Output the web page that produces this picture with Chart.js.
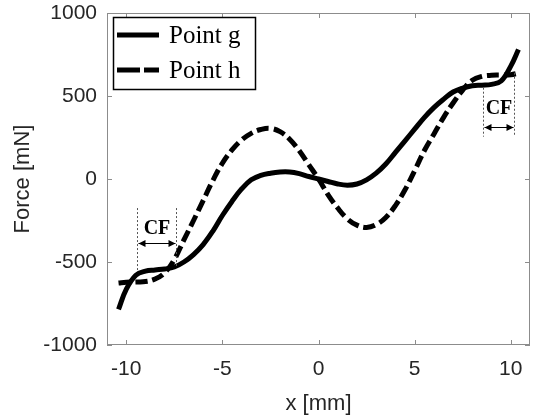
<!DOCTYPE html>
<html><head><meta charset="utf-8">
<script src="https://cdn.jsdelivr.net/npm/chart.js@4/dist/chart.umd.min.js"></script>
<style>html,body{margin:0;padding:0;background:#fff;}canvas{display:block;}</style>
</head><body>
<canvas id="c" width="537" height="417"></canvas>
<script>
const xValues = [-10.4,-10,-9.5,-9,-8.5,-8,-7.5,-7,-6.5,-6,-5.5,-5,-4.5,-4,-3.5,-3,-2.5,-2,-1.5,-1,-0.5,0,0.5,1,1.5,2,2.5,3,3.5,4,4.5,5,5.5,6,6.5,7,7.5,8,8.5,9,9.5,10,10.4];
const pointG = [-785,-665,-580,-555,-548,-542,-530,-500,-455,-395,-315,-220,-135,-60,-5,22,35,42,42,32,15,0,-15,-30,-37,-30,-5,35,90,160,230,300,370,430,480,524,548,562,565,570,590,680,780];
const pointH = [-627,-622,-620,-618,-603,-565,-485,-367,-250,-130,-10,95,175,235,275,298,305,285,240,170,85,0,-95,-175,-240,-278,-292,-275,-232,-160,-65,50,170,270,370,458,536,595,618,625,626,628,638];
const seriesNames = ['Point g', 'Point h'];
const xTicks = [-10,-5,0,5,10];
const yTicks = [-1000,-500,0,500,1000];
const cfMarks = [
  {x1:-9.43, x2:-7.4, top1:-175, top2:-175, bot1:-550, bot2:-530, arrowY:-385, textY:-300},
  {x1:8.54, x2:10.16, top1:550, top2:640, bot1:255, bot2:255, arrowY:313, textY:422}
];

const serif = '"Liberation Serif","Times New Roman",serif';
const sans = '"Liberation Sans",Arial,Helvetica,sans-serif';
const axisColor = '#8c8c8c';
const textColor = '#262626';

const framePlugin = {
  id: 'frame',
  beforeDatasetsDraw(chart) {
    const {ctx, chartArea: a, scales} = chart;
    ctx.save();
    ctx.strokeStyle = axisColor; ctx.lineWidth = 1;
    ctx.strokeRect(a.left + 0.5, a.top + 0.5, a.right - a.left - 1, a.bottom - a.top - 1);
    ctx.beginPath();
    xTicks.forEach(v => {
      const p = Math.round(scales.x.getPixelForValue(v)) + 0.5;
      ctx.moveTo(p, a.bottom); ctx.lineTo(p, a.bottom - 5);
      ctx.moveTo(p, a.top); ctx.lineTo(p, a.top + 5);
    });
    yTicks.forEach(v => {
      const p = Math.round(scales.y.getPixelForValue(v)) + 0.5;
      ctx.moveTo(a.left, p); ctx.lineTo(a.left + 5, p);
      ctx.moveTo(a.right, p); ctx.lineTo(a.right - 5, p);
    });
    ctx.stroke();
    ctx.restore();
  },
  afterDatasetsDraw(chart) {
    const {ctx, chartArea: a, scales} = chart;
    const X = v => scales.x.getPixelForValue(v), Y = v => scales.y.getPixelForValue(v);
    ctx.save();
    cfMarks.forEach(m => {
      const x1 = Math.round(X(m.x1)) + 0.5, x2 = Math.round(X(m.x2)) + 0.5;
      ctx.strokeStyle = '#555'; ctx.lineWidth = 1; ctx.setLineDash([2, 2]);
      ctx.beginPath();
      ctx.moveTo(x1, Y(m.top1)); ctx.lineTo(x1, Y(m.bot1));
      ctx.moveTo(x2, Y(m.top2)); ctx.lineTo(x2, Y(m.bot2));
      ctx.stroke();
      ctx.setLineDash([]);
      const ay = Math.round(Y(m.arrowY)) + 0.5;
      ctx.strokeStyle = '#000'; ctx.fillStyle = '#000';
      ctx.beginPath(); ctx.moveTo(x1 + 1, ay); ctx.lineTo(x2 - 1, ay); ctx.stroke();
      ctx.beginPath();
      ctx.moveTo(x1 + 1, ay); ctx.lineTo(x1 + 8, ay - 3.5); ctx.lineTo(x1 + 8, ay + 3.5); ctx.closePath();
      ctx.moveTo(x2 - 1, ay); ctx.lineTo(x2 - 8, ay - 3.5); ctx.lineTo(x2 - 8, ay + 3.5); ctx.closePath();
      ctx.fill();
      ctx.font = 'bold 20px ' + serif;
      ctx.textAlign = 'center'; ctx.textBaseline = 'middle';
      ctx.fillText('CF', (x1 + x2) / 2, Y(m.textY));
    });
    const lx = a.left + 6.5, ly = a.top + 4.5, lw = 142, lh = 72;
    ctx.fillStyle = '#fff'; ctx.fillRect(lx, ly, lw, lh);
    ctx.strokeStyle = '#000'; ctx.lineWidth = 1.5; ctx.strokeRect(lx, ly, lw, lh);
    const rows = [a.top + 22, a.top + 57];
    chart.data.datasets.forEach((ds, i) => {
      ctx.strokeStyle = '#000'; ctx.lineWidth = 5; ctx.lineCap = 'butt';
      ctx.setLineDash(i === 0 ? [] : [23, 4]);
      ctx.beginPath(); ctx.moveTo(a.left + 10, rows[i]); ctx.lineTo(a.left + 52, rows[i]); ctx.stroke();
      ctx.setLineDash([]);
      ctx.fillStyle = '#000'; ctx.font = '25px ' + serif;
      ctx.textAlign = 'left'; ctx.textBaseline = 'middle';
      ctx.fillText(ds.label, a.left + 62, rows[i] + 1);
    });
    ctx.restore();
  }
};

new Chart(document.getElementById('c'), {
  type: 'line',
  data: {
    datasets: [
      {label: seriesNames[0], data: xValues.map((x, i) => ({x, y: pointG[i]})), borderColor: '#000', borderWidth: 5, pointRadius: 0, tension: 0.4, fill: false},
      {label: seriesNames[1], data: xValues.map((x, i) => ({x, y: pointH[i]})), borderColor: '#000', borderWidth: 5, borderDash: [12, 5], pointRadius: 0, tension: 0.4, fill: false}
    ]
  },
  options: {
    responsive: false, animation: false,
    layout: {padding: {left: 0, right: 7, top: 13, bottom: 0}},
    plugins: {legend: {display: false}, tooltip: {enabled: false}},
    scales: {
      x: {
        type: 'linear', min: -11, max: 11,
        afterBuildTicks: s => { s.ticks = xTicks.map(v => ({value: v})); },
        afterFit: s => { s.height = 72; s.paddingLeft = 0; s.paddingRight = 0; },
        grid: {display: false, drawTicks: false},
        border: {display: false},
        ticks: {color: textColor, font: {family: sans, size: 21}, padding: 12, maxRotation: 0, callback: v => String(v)},
        title: {display: true, text: 'x [mm]', color: textColor, font: {family: sans, size: 22}, padding: {top: 2, bottom: 0}}
      },
      y: {
        type: 'linear', min: -1000, max: 1000,
        afterBuildTicks: s => { s.ticks = yTicks.map(v => ({value: v})); },
        afterFit: s => { s.width = 107; s.paddingTop = 0; s.paddingBottom = 0; },
        grid: {display: false, drawTicks: false},
        border: {display: false},
        ticks: {color: textColor, font: {family: sans, size: 21}, padding: 10, callback: v => String(v)},
        title: {display: true, text: 'Force [mN]', color: textColor, font: {family: sans, size: 22}, padding: {top: 10, bottom: 0}}
      }
    }
  },
  plugins: [framePlugin]
});
</script>
</body></html>
